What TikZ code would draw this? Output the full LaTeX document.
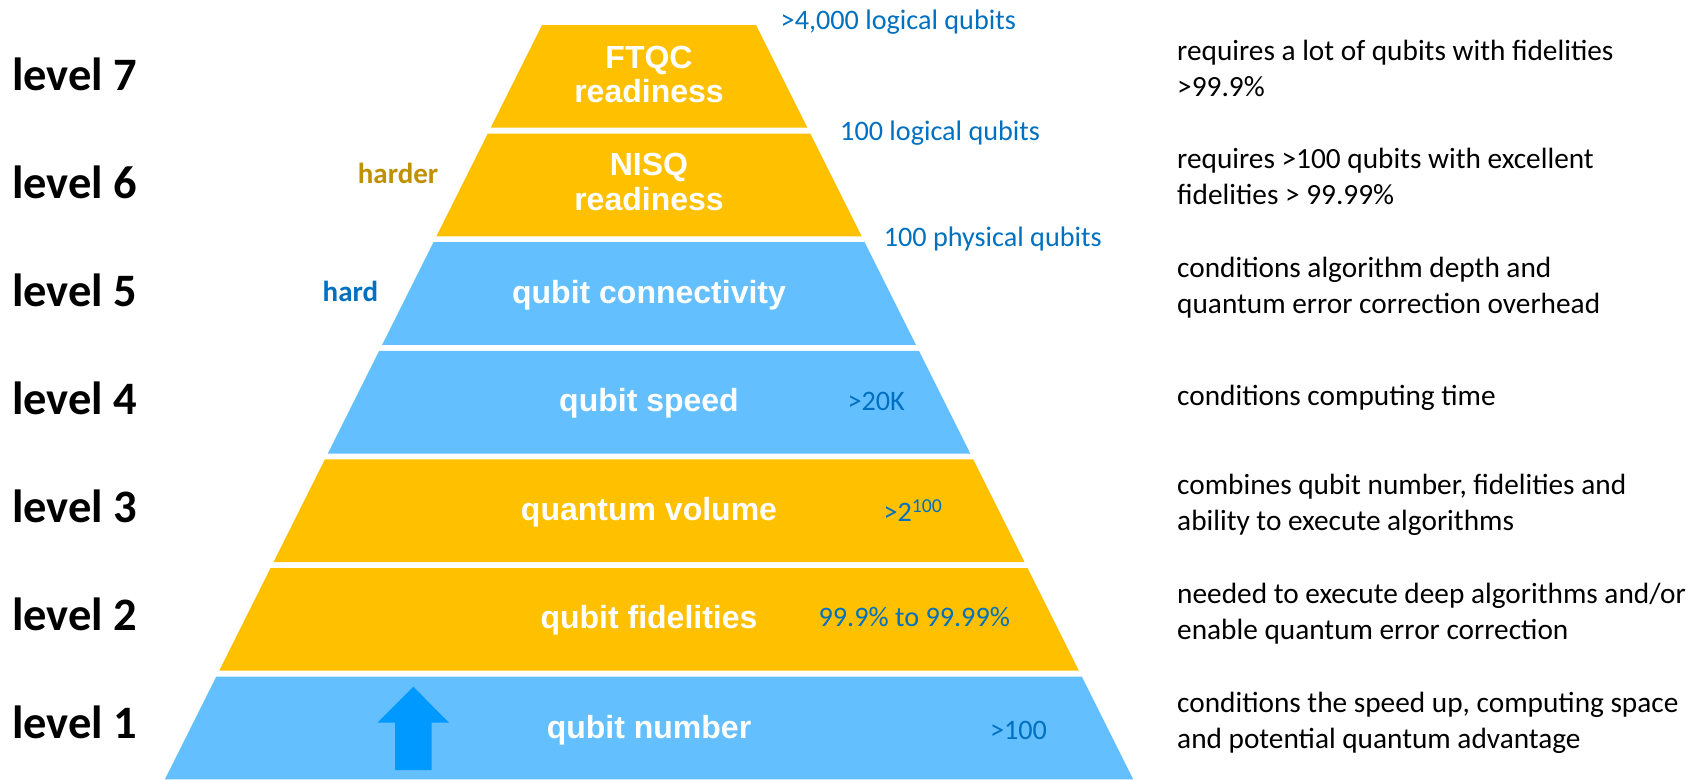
\documentclass[tikz,border=0pt]{standalone}
\usepackage{fontspec}
\setmainfont{Carlito}
\newfontfamily\arialfont{Liberation Sans}
\definecolor{pyrgold}{HTML}{FFC000}
\definecolor{pyrblue}{HTML}{64BFFF}
\definecolor{arrowblue}{HTML}{0099FF}
\definecolor{labblue}{HTML}{0070C0}
\definecolor{darkgold}{HTML}{BF9000}
\tikzset{
  every node/.style={inner sep=0pt},
  levelbox/.style={anchor=base west, font=\fontsize{46.5}{50}\selectfont\bfseries},
  pyrtext/.style={anchor=base, align=center, text=white, font=\arialfont\fontsize{32}{34.4}\selectfont\bfseries},
  pyrnote/.style={anchor=base west, text=labblue, font=\fontsize{28.2}{34}\selectfont},
  desc/.style={anchor=base west, align=left, font=\fontsize{29.3}{35.5}\selectfont}
}
\begin{document}
\begin{tikzpicture}[x=1pt,y=-1pt]
\useasboundingbox (0,0) rectangle (1688,779);

% bands of the pyramid and the level names
\foreach \n/\col in {7/pyrgold,6/pyrgold,5/pyrblue,4/pyrblue,3/pyrgold,2/pyrgold,1/pyrblue}{
  \pgfmathsetmacro\yt{25+(7-\n)*108.6}
  \pgfmathsetmacro\yb{\yt+102.7}
  \pgfmathsetmacro\wt{107+0.5*(\yt-25)}
  \pgfmathsetmacro\wb{107+0.5*(\yb-25)}
  \fill[\col] (649-\wt,\yt) -- (649+\wt,\yt) -- (649+\wb,\yb) -- (649-\wb,\yb) -- cycle;
  \node[levelbox] (lev\n) at (12,{90+(7-\n)*108.05}) {level \n};
}

% texts in the bands (base = last line)
\node[pyrtext] (ftqc) at (649,102.7) {FTQC\\readiness};
\node[pyrtext] (nisq) at (649,210) {NISQ\\readiness};
\node[pyrtext] (conn) at (649,303.3) {qubit connectivity};
\node[pyrtext] (speed) at (649,411.7) {qubit speed};
\node[pyrtext] (volume) at (649,520) {quantum volume};
\node[pyrtext] (fidel) at (649,628.3) {qubit fidelities};
\node[pyrtext] (number) at (649,738.3) {qubit number};

% targets
\node[pyrnote] (t7) at (780.5,29.3) {>4,000 logical qubits};
\node[pyrnote] (t6) at (840,140) {100 logical qubits};
\node[pyrnote] (t5) at (883.6,246) {100 physical qubits};
\node[pyrnote] (t4) at (847.3,410) {>20K};
\node[pyrnote] (t3) at (883.3,521.7) {>2\textsuperscript{100}};
\node[pyrnote] (t2) at (818.4,626.7) {99.9\% to 99.99\%};
\node[pyrnote] (t1) at (989.8,739.3) {>100};

\node[anchor=base west, text=darkgold, font=\fontsize{29}{34}\selectfont\bfseries] (harder) at (357.7,183.3) {harder};
\node[anchor=base west, text=labblue, font=\fontsize{29}{34}\selectfont\bfseries] (hard) at (322.5,301.7) {hard};

% arrow
\fill[arrowblue] (395,770) -- (395,722.7) -- (377.3,722.7) -- (413.3,686.7)
  -- (449,722.7) -- (431.7,722.7) -- (431.7,770) -- cycle;

% descriptions (base = last line)
\node[desc] (d7) at (1177,96) {requires a lot of qubits with fidelities\\>99.9\%};
\node[desc] (d6) at (1177,204) {requires >100 qubits with excellent\\fidelities > 99.99\%};
\node[desc] (d5) at (1177,313.3) {conditions algorithm depth and\\quantum error correction overhead};
\node[desc] (d4) at (1177,405) {conditions computing time};
\node[desc] (d3) at (1177,530) {combines qubit number, fidelities and\\ability to execute algorithms};
\node[desc] (d2) at (1177,639.3) {needed to execute deep algorithms and/or\\enable quantum error correction};
\node[desc] (d1) at (1177,748.3) {conditions the speed up, computing space\\and potential quantum advantage};
\end{tikzpicture}
\end{document}
